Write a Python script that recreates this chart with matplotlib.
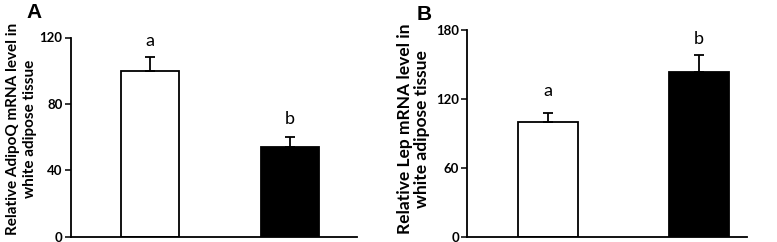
import matplotlib
matplotlib.use("Agg")
import matplotlib.pyplot as plt

plt.rcParams['font.family'] = ['Lato', 'DejaVu Sans']

groups = ["Control", "Treated"]
adipoq_vals = [100, 54]
adipoq_err = [8, 6.3]
adipoq_letters = ["a", "b"]
lep_vals = [100, 143]
lep_err = [7.5, 15]
lep_letters = ["a", "b"]
colors = ["white", "black"]

fig = plt.figure(figsize=(7.77, 2.42), dpi=100)

def panel(rect, vals, errs, letters, ylim, yticks, xlim, width, ylabel, tag, tagpos,
          letter_offsets, label_xy, label_size, lsp):
    ax = fig.add_axes(rect)
    x = list(range(len(vals)))
    ax.bar(x, vals, width=width, color=colors, edgecolor="black", linewidth=1.3, zorder=2)
    ax.errorbar(x, vals, yerr=[[0]*len(errs), errs], fmt="none", ecolor="black",
                elinewidth=1.3, capsize=3.5, capthick=1.3, zorder=3)
    for xi, v, e, l, off in zip(x, vals, errs, letters, letter_offsets):
        ax.annotate(l, (xi, v + e), xytext=(0, off), textcoords="offset points",
                    ha="center", va="bottom", fontsize=13)
    ax.set_ylim(*ylim)
    ax.set_yticks(yticks)
    ax.set_xlim(*xlim)
    ax.set_xticks([])
    for s in ["top", "right"]:
        ax.spines[s].set_visible(False)
    ax.spines["left"].set_linewidth(1.3)
    ax.spines["bottom"].set_linewidth(1.3)
    ax.tick_params(axis="y", direction="out", length=4, width=1.1, labelsize=9.5, pad=2)
    for lab in ax.get_yticklabels():
        lab.set_fontweight("bold")
    ax.set_ylabel(ylabel, fontsize=label_size, fontweight="bold", linespacing=lsp)
    ax.yaxis.set_label_coords(*label_xy)
    fig.text(tagpos[0], tagpos[1], tag, fontsize=15, fontweight="bold",
             family=["Liberation Sans", "DejaVu Sans"], ha="left", va="center")
    return ax

panel([71/777, 5.5/242, 286/777, 199/242], adipoq_vals, adipoq_err, adipoq_letters,
      (0, 120), [0, 40, 80, 120], (-0.564, 1.479), 0.41,
      "Relative AdipoQ mRNA level in\nwhite adipose tissue", "A", (26/777, 1 - 12/242),
      [6, 7], (-0.118, 0.54), 11.0, 1.3)
panel([467.3/777, 5.5/242, 279.4/777, 206.5/242], lep_vals, lep_err, lep_letters,
      (0, 180), [0, 60, 120, 180], (-0.533, 1.317), 0.40,
      "Relative Lep mRNA level in\nwhite adipose tissue", "B", (417/777, 1 - 15/242),
      [10, 6], (-0.134, 0.52), 12.5, 1.05)

fig.savefig("out.png", dpi=100)
